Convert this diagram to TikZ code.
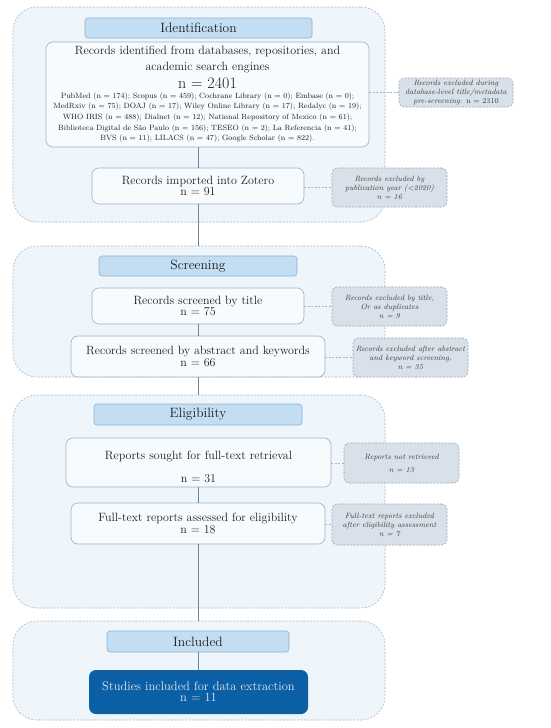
\documentclass[tikz,border=0pt]{standalone}
\usepackage{fontspec}
\usepackage{tikz}
\usetikzlibrary{positioning}
\definecolor{ZoneFill}{HTML}{EEF5FB}
\definecolor{ZoneLine}{HTML}{A9B7C5}
\definecolor{HeadFill}{HTML}{C3DDF2}
\definecolor{HeadLine}{HTML}{8DB1D0}
\definecolor{BoxFill}{HTML}{F8FBFE}
\definecolor{BoxLine}{HTML}{9CB3C8}
\definecolor{ExclFill}{HTML}{D8E0E9}
\definecolor{ExclLine}{HTML}{98A8B8}
\definecolor{Flow}{HTML}{6E8394}
\definecolor{DeepBlue}{HTML}{0B5FA5}
\definecolor{Ink}{HTML}{1C1C1C}
\newcommand{\sourcefont}{\fontsize{7.6}{10.7}\selectfont}
\newcommand{\recordfont}{\fontsize{12}{10}\selectfont}
\tikzset{
  zone/.style={draw=ZoneLine, fill=ZoneFill, dash pattern=on 2pt off 1.5pt, line width=0.6pt, rounded corners=24pt, inner sep=0pt},
  phase/.style={draw=HeadLine, fill=HeadFill, rounded corners=3pt, line width=0.6pt, inner sep=0pt, font=\fontsize{13.5}{14}\selectfont, text=Ink},
  record/.style={draw=BoxLine, fill=BoxFill, rounded corners=7pt, line width=0.6pt, inner sep=0pt, align=center, font=\recordfont, text=Ink},
  excluded/.style={draw=ExclLine, fill=ExclFill, dash pattern=on 2pt off 1.5pt, rounded corners=5pt, line width=0.6pt, inner sep=0pt, align=center, font=\fontsize{7.6}{9}\selectfont\itshape, text=Ink!85},
  final/.style={fill=DeepBlue, rounded corners=7pt, inner sep=0pt, align=center, font=\fontsize{12.5}{10}\selectfont, text=white!88!DeepBlue},
  link/.style={draw=Flow, line width=1pt},
  sidelink/.style={draw=ZoneLine, dash pattern=on 2pt off 1.5pt, line width=0.6pt},
}

\begin{document}
\begin{tikzpicture}[x=1pt, y=-1pt]
  \useasboundingbox (0,0) rectangle (550,728);

  % Phase zones
  \node[zone, minimum width=372, minimum height=215] (idZone) at (199,114.5) {};
  \node[zone, minimum width=372, minimum height=131] (scrZone) at (199,311.5) {};
  \node[zone, minimum width=372, minimum height=213] (eliZone) at (199,501.5) {};
  \node[zone, minimum width=372, minimum height=99] (incZone) at (199,670.5) {};

  % Identification
  \node[phase, minimum width=227, minimum height=20] (idHead) at (198.5,28) {Identification};
  \node[record, minimum width=323, minimum height=105, font=\sourcefont] (identified) at (207.5,94.5) {%
    \recordfont Records identified from databases, repositories, and\\[5pt]
    \recordfont academic search engines\\[4pt]
    \fontsize{16}{15}\selectfont n = 2401\\[-1pt]
    PubMed (n = 174); Scopus (n = 459); Cochrane Library (n = 0); Embase (n = 0);\\
    MedRxiv (n = 75); DOAJ (n = 17); Wiley Online Library (n = 17); Redalyc (n = 19);\\
    WHO IRIS (n = 488); Dialnet (n = 12); National Repository of Mexico (n = 61);\\
    Biblioteca Digital de São Paulo (n = 156); TESEO (n = 2); La Referencia (n = 41);\\
    BVS (n = 11); LILACS (n = 47); Google Scholar (n = 822).};
  \node[record, minimum width=212, minimum height=36] (imported) at (198,186) {Records imported into Zotero\\ n = 91};
  \node[excluded, minimum width=114, minimum height=29] (exDatabase) at (456,92.5) {Records excluded during\\ database-level title/metadata\\ pre-screening: \textup{n = 2310}};
  \node[excluded, minimum width=115, minimum height=39] (exYear) at (389.5,187.5) {Records excluded by\\ publication year (<2020)\\ n = 16};

  % Screening
  \node[phase, minimum width=198, minimum height=20] (scrHead) at (198,266) {Screening};
  \node[record, minimum width=212, minimum height=36] (byTitle) at (198,306) {Records screened by title\\ n = 75};
  \node[record, minimum width=254, minimum height=41] (byAbstract) at (198,356.5) {Records screened by abstract and keywords\\ n = 66};
  \node[excluded, minimum width=115, minimum height=39] (exTitle) at (389.5,306.5) {Records excluded by title,\\ Or as duplicates\\ n = 9};
  \node[excluded, minimum width=115, minimum height=39] (exAbstract) at (410.5,357.5) {Records excluded after abstract\\ and keyword screening,\\ n = 35};

  % Eligibility
  \node[phase, minimum width=208, minimum height=21] (eliHead) at (198,414.5) {Eligibility};
  \node[record, minimum width=265, minimum height=49] (sought) at (198.5,462.5) {\rule{0pt}{17pt}Reports sought for full-text retrieval\\[12pt] n = 31};
  \node[record, minimum width=254, minimum height=41] (assessed) at (198,523.5) {Full-text reports assessed for eligibility\\ n = 18};
  \node[excluded, minimum width=115, minimum height=40] (exSought) at (401.5,463) {Reports not retrieved\\[4pt] n = 13};
  \node[excluded, minimum width=115, minimum height=41] (exAssessed) at (389.5,524.5) {Full-text reports excluded\\ after eligibility assessment\\ n = 7};

  % Included
  \node[phase, minimum width=182, minimum height=21] (incHead) at (198,641.5) {Included};
  \node[final, minimum width=219, minimum height=44] (studies) at (198.5,692) {Studies included for data extraction\\[1pt] n = 11};

  % Main flow
  \draw[link] (identified.south -| imported.north) -- (imported.north);
  \draw[link] (imported.south) -- (imported.south |- scrZone.north);
  \draw[link] (byTitle.south) -- (byAbstract.north);
  \draw[link] (byAbstract.south) -- (byAbstract.south |- eliZone.north);
  \draw[link] (sought.south -| assessed.north) -- (assessed.north);
  \draw[link] (assessed.south) -- (assessed.south |- incZone.north);
  \draw[link] (incHead.south -| studies.north) -- (studies.north);

  % Exclusions
  \draw[sidelink] (exDatabase.west -| identified.east) -- (exDatabase.west);
  \draw[sidelink] (exYear.west -| imported.east) -- (exYear.west);
  \draw[sidelink] (exTitle.west -| byTitle.east) -- (exTitle.west);
  \draw[sidelink] (exAbstract.west -| byAbstract.east) -- (exAbstract.west);
  \draw[sidelink] (exSought.west -| sought.east) -- (exSought.west);
  \draw[sidelink] (exAssessed.west -| assessed.east) -- (exAssessed.west);
\end{tikzpicture}
\end{document}
